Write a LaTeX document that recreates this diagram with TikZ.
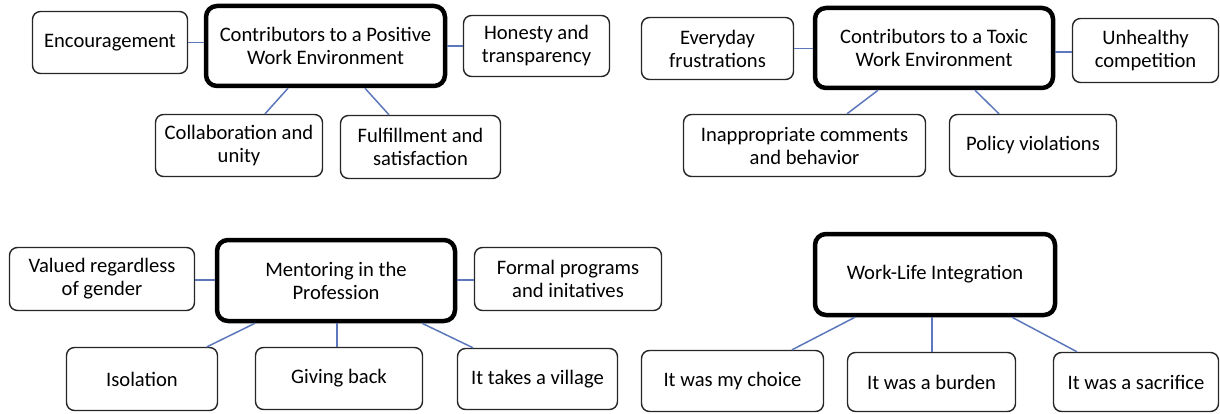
\documentclass[tikz,border=0pt]{standalone}
\usepackage{fontspec}
\setmainfont{Carlito}
\begin{document}
\begin{tikzpicture}[x=1pt,y=-1pt,
  every node/.style={font=\fontsize{20.6}{23}\selectfont, text=black, align=center, inner sep=0pt},
  leaf/.style={draw=black!85, line width=1.4pt, rounded corners=8pt, fill=white},
  hub/.style={draw=black, line width=4.5pt, rounded corners=11pt, fill=white},
  link/.style={draw={rgb,255:red,92;green,120;blue,186}, line width=1.5pt}]
\path[use as bounding box] (0,0) rectangle (1220,414);

% Panel 1
\node[hub, minimum width=239pt, minimum height=80pt] (pos) at (325.5,46) {Contributors to a Positive\\Work Environment};
\node[leaf, minimum width=155pt, minimum height=62pt] (enc) at (110,42.5) {Encouragement};
\node[leaf, minimum width=146pt, minimum height=61pt] (hon) at (536.5,46) {Honesty and\\transparency};
\node[leaf, minimum width=167pt, minimum height=62pt] (col) at (239,145.5) {Collaboration and\\unity};
\node[leaf, minimum width=160pt, minimum height=63pt] (ful) at (420.5,147) {Fulfillment and\\satisfaction};

% Panel 2
\node[hub, minimum width=238pt, minimum height=80pt] (tox) at (934,48) {Contributors to a Toxic\\Work Environment};
\node[leaf, minimum width=152pt, minimum height=62pt] (eve) at (717.5,48.5) {Everyday\\frustrations};
\node[leaf, minimum width=146pt, minimum height=64pt] (unh) at (1145.5,50.5) {Unhealthy\\competition};
\node[leaf, minimum width=242pt, minimum height=62pt] (ina) at (804.5,145.5) {Inappropriate comments\\and behavior};
\node[leaf, minimum width=167pt, minimum height=62pt] (pol) at (1033,145.5) {Policy violations};

% Panel 3
\node[hub, minimum width=238pt, minimum height=81pt] (men) at (336,280.5) {Mentoring in the\\Profession};
\node[leaf, minimum width=185pt, minimum height=63pt] (val) at (102,279) {Valued regardless\\of gender};
\node[leaf, minimum width=187pt, minimum height=63pt] (frm) at (568,279) {Formal programs\\and initatives};
\node[leaf, minimum width=151pt, minimum height=63pt] (iso) at (142,379) {Isolation};
\node[leaf, minimum width=167pt, minimum height=62pt] (giv) at (339,378.5) {Giving back};
\node[leaf, minimum width=160pt, minimum height=61pt] (vil) at (537.5,379) {It takes a village};

% Panel 4
\node[hub, minimum width=240pt, minimum height=81pt] (wli) at (935,274.5) {Work-Life Integration};
\node[leaf, minimum width=182pt, minimum height=61pt] (cho) at (732.5,381) {It was my choice};
\node[leaf, minimum width=168pt, minimum height=59pt] (bur) at (931.5,382) {It was a burden};
\node[leaf, minimum width=165pt, minimum height=59pt] (sac) at (1136,382) {It was a sacrifice};

% Connectors
\draw[link] (enc.east) -- (enc.east -| pos.west);
\draw[link] (hon.west) -- (hon.west -| pos.east);
\draw[link] ([xshift=-37.5pt]pos.south) -- ([xshift=26pt]col.north);
\draw[link] ([xshift=39.5pt]pos.south) -- ([xshift=-31.5pt]ful.north);

\draw[link] (eve.east) -- (eve.east -| tox.west);
\draw[link] ([yshift=-1.5pt]unh.west) -- ([yshift=-1.5pt]unh.west -| tox.east);
\draw[link] ([xshift=-56pt]tox.south) -- ([xshift=42.5pt]ina.north);
\draw[link] ([xshift=41pt]tox.south) -- ([xshift=-34pt]pol.north);

\draw[link] ([yshift=-1pt]val.east) -- ([yshift=-1pt]val.east -| men.west);
\draw[link] ([yshift=-1pt]frm.west) -- ([yshift=-1pt]frm.west -| men.east);
\draw[link] ([xshift=-81pt]men.south) -- ([xshift=65pt]iso.north);
\draw[link] ([xshift=1pt]men.south) -- ([xshift=1pt]men.south |- giv.north);
\draw[link] ([xshift=86pt]men.south) -- ([xshift=-64.5pt]vil.north);

\draw[link] ([xshift=-80pt]wli.south) -- ([xshift=59.5pt]cho.north);
\draw[link] ([xshift=-3pt]wli.south) -- ([xshift=-3pt]wli.south |- bur.north);
\draw[link] ([xshift=77pt]wli.south) -- ([xshift=-59pt]sac.north);
\end{tikzpicture}
\end{document}
